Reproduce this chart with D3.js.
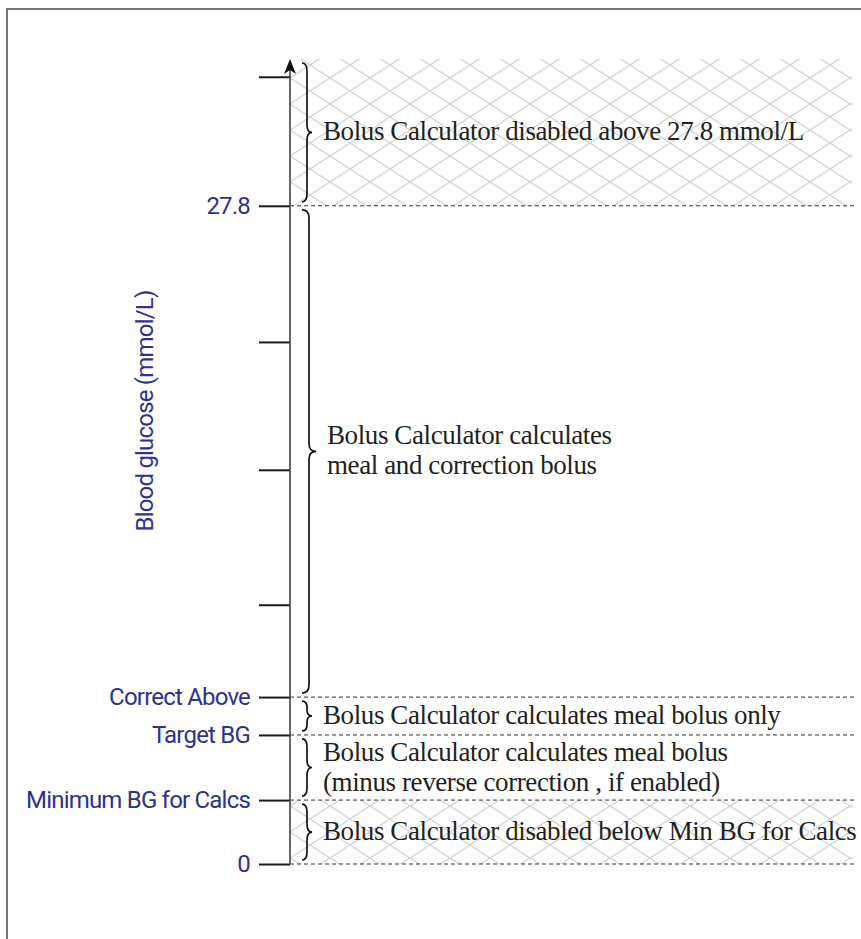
<!DOCTYPE html>
<html>
<head>
<meta charset="utf-8">
<script src="https://cdn.jsdelivr.net/npm/d3@7"></script>
<style>
  body { margin: 0; background: #fff; }
  .tick text { font-family: Roboto, "Open Sans", sans-serif; }
</style>
</head>
<body>
<svg id="diagram"></svg>
<script>
// diagram is not to scale; these are the positions of the levels along the axis
let tickValues = [0, 2.7, 5.45, 7.05, 10.95, 16.65, 22.05, 27.8, 33.25];
let tickLabels = ["0", "Minimum BG for Calcs", "Target BG", "Correct Above", "", "", "", "27.8", ""];

let dashedLevels = [0, 2.7, 5.45, 7.05, 27.8];

let regionFrom = [27.8, 7.05, 5.45, 2.7, 0];
let regionTo = [34, 27.8, 7.05, 5.45, 2.7];
let regionHatched = [true, false, false, false, true];
let regionText = [
  ["Bolus Calculator disabled above 27.8 mmol/L"],
  ["Bolus Calculator calculates", "meal and correction bolus"],
  ["Bolus Calculator calculates meal bolus only"],
  ["Bolus Calculator calculates meal bolus", "(minus reverse correction , if enabled)"],
  ["Bolus Calculator disabled below Min BG for Calcs"]
];

let yTitle = "Blood glucose (mmol/L)";

let config = {
  width: 861,
  height: 939,
  axisX: 290,
  axisTop: 59,
  axisBottom: 864,
  right: 852
};

let svg = d3.select("svg#diagram")
  .attr("width", config.width)
  .attr("height", config.height);

let scale = {};
scale.y = d3.scaleLinear()
  .domain([0, 34])
  .range([config.axisBottom, config.axisTop]);

// hatch pattern
let defs = svg.append("defs");
let pattern = defs.append("pattern")
  .attr("id", "hatch")
  .attr("patternUnits", "userSpaceOnUse")
  .attr("x", config.axisX)
  .attr("y", 0)
  .attr("width", 40)
  .attr("height", 26);
pattern.append("path")
  .attr("d", "M0,0L40,26M0,26L40,0")
  .attr("stroke", "#d4d4d4")
  .attr("stroke-width", 1.4)
  .attr("fill", "none");

// frame
svg.append("path")
  .attr("d", "M7," + config.height + "V9H" + config.width)
  .attr("stroke", "#777")
  .attr("stroke-width", 2)
  .attr("fill", "none");

let regions = regionFrom.map((f, i) => ({
  from: f, to: regionTo[i], hatched: regionHatched[i], lines: regionText[i]
}));

svg.append("g").selectAll("rect")
  .data(regions.filter(d => d.hatched))
  .enter()
  .append("rect")
  .attr("x", config.axisX)
  .attr("y", d => scale.y(d.to))
  .attr("width", config.right - config.axisX)
  .attr("height", d => scale.y(d.from) - scale.y(d.to))
  .attr("fill", "url(#hatch)");

svg.append("g").selectAll("line")
  .data(dashedLevels)
  .enter()
  .append("line")
  .attr("x1", config.axisX)
  .attr("x2", config.right + 3)
  .attr("y1", d => scale.y(d))
  .attr("y2", d => scale.y(d))
  .attr("stroke", "#333")
  .attr("stroke-width", 1)
  .attr("stroke-dasharray", "4,3");

// axis
let axis = d3.axisLeft(scale.y)
  .tickValues(tickValues)
  .tickFormat((d, i) => tickLabels[i])
  .tickSize(31)
  .tickPadding(9)
  .tickSizeOuter(0);

let gy = svg.append("g")
  .attr("transform", translate(config.axisX, 0))
  .call(axis);
gy.select(".domain").remove();
gy.selectAll(".tick line")
  .attr("stroke", "#1a1a1a")
  .attr("stroke-width", 2);
gy.selectAll(".tick text")
  .attr("fill", "#2e3192")
  .attr("font-size", "24px")
  .attr("letter-spacing", "-0.8px");

svg.append("line")
  .attr("x1", config.axisX)
  .attr("x2", config.axisX)
  .attr("y1", config.axisTop + 8)
  .attr("y2", config.axisBottom)
  .attr("stroke", "#444")
  .attr("stroke-width", 1.6);

svg.append("path")
  .attr("d", "M" + config.axisX + "," + config.axisTop +
    "l-6,15l6,-4l6,4z")
  .attr("fill", "#111");

svg.append("text")
  .text(yTitle)
  .attr("transform", translate(153, 411) + " rotate(-90)")
  .attr("text-anchor", "middle")
  .attr("font-family", "Roboto, 'Open Sans', sans-serif")
  .attr("font-size", "24px")
  .attr("letter-spacing", "-0.8px")
  .attr("fill", "#2e3192");

// braces and labels
let braceX = config.axisX + 12;

let groups = svg.append("g").selectAll("g")
  .data(regions)
  .enter()
  .append("g");

groups.append("path")
  .attr("d", d => {
    let y1 = scale.y(d.to) + 4;
    let y2 = scale.y(d.from) - 4;
    let w = (y2 - y1) > 200 ? 14 : 10;
    return brace(braceX, y1, y2, w);
  })
  .attr("fill", "none")
  .attr("stroke", "#111")
  .attr("stroke-width", 1.7);

groups.each(function(d) {
  let mid = (scale.y(d.to) + scale.y(d.from)) / 2;
  let lineH = 30;
  let top = mid - (d.lines.length - 1) * lineH / 2;
  let w = (scale.y(d.from) - scale.y(d.to)) > 200 ? 14 : 10;
  d3.select(this).selectAll("text")
    .data(d.lines)
    .enter()
    .append("text")
    .text(t => t)
    .attr("x", braceX + w + 11)
    .attr("y", (t, i) => top + i * lineH + 8)
    .attr("font-family", "'Liberation Serif', 'DejaVu Serif', serif")
    .attr("font-size", "27px")
    .attr("letter-spacing", "-0.4px")
    .attr("fill", "#231f20");
});

function brace(x, y1, y2, w) {
  let ym = (y1 + y2) / 2;
  let k = Math.min(8, (y2 - y1) / 5);
  let xm = x + w / 2;
  return "M" + x + "," + y1 +
    "Q" + xm + "," + y1 + " " + xm + "," + (y1 + k) +
    "L" + xm + "," + (ym - k) +
    "Q" + xm + "," + ym + " " + (x + w) + "," + ym +
    "Q" + xm + "," + ym + " " + xm + "," + (ym + k) +
    "L" + xm + "," + (y2 - k) +
    "Q" + xm + "," + y2 + " " + x + "," + y2;
}

function translate(x, y) {
  return 'translate(' + x + ',' + y + ')';
}
</script>
</body>
</html>
